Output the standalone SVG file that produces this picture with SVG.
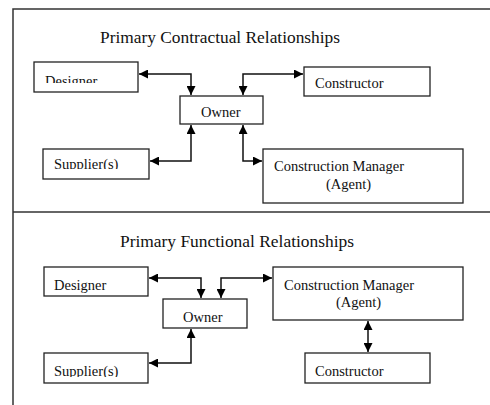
<svg xmlns="http://www.w3.org/2000/svg" width="490" height="405" viewBox="0 0 490 405">
  <style>
    .frame { fill: none; stroke: #333; stroke-width: 1.5; }
    .box { fill: #fff; stroke: #222; stroke-width: 1.3; }
    .label { font-family: "Liberation Serif", "Times New Roman", serif; font-size: 14.5px; fill: #111; }
    .title { font-family: "Liberation Serif", "Times New Roman", serif; font-size: 16px; fill: #111; }
    .link { fill: none; stroke: #111; stroke-width: 1.5; marker-start: url(#head); marker-end: url(#head); }
  </style>
  <defs>
    <marker id="head" viewBox="0 0 10 10" refX="10" refY="5" markerWidth="10" markerHeight="9" markerUnits="userSpaceOnUse" orient="auto-start-reverse">
      <path d="M0,0 L10,5 L0,10 z" fill="#000"/>
    </marker>
    <clipPath id="clipDesignerTop"><rect x="34" y="62" width="104" height="21"/></clipPath>
    <clipPath id="clipSupplierTop"><rect x="43" y="149" width="106" height="20"/></clipPath>
    <clipPath id="clipSupplierBottom"><rect x="44" y="353" width="104" height="24"/></clipPath>
  </defs>

  <!-- outer frame and section divider -->
  <path class="frame" d="M13,405 V9 H490"/>
  <path class="frame" d="M13,212 H490"/>

  <!-- section titles -->
  <text class="title" x="100" y="43" textLength="240" lengthAdjust="spacingAndGlyphs">Primary Contractual Relationships</text>
  <text class="title" x="120" y="247" textLength="234" lengthAdjust="spacingAndGlyphs">Primary Functional Relationships</text>

  <!-- contractual relationships -->
  <g id="c-designer">
    <rect class="box" x="34" y="62" width="104" height="30"/>
    <text class="label" x="45" y="86" clip-path="url(#clipDesignerTop)">Designer</text>
  </g>
  <g id="c-owner">
    <rect class="box" x="180" y="96" width="83" height="28"/>
    <text class="label" x="201" y="117">Owner</text>
  </g>
  <g id="c-constructor">
    <rect class="box" x="304" y="67" width="126" height="29"/>
    <text class="label" x="315" y="88">Constructor</text>
  </g>
  <g id="c-supplier">
    <rect class="box" x="43" y="149" width="106" height="30"/>
    <text class="label" x="54" y="169" clip-path="url(#clipSupplierTop)">Supplier(s)</text>
  </g>
  <g id="c-cm">
    <rect class="box" x="263" y="149" width="200" height="54"/>
    <text class="label" x="274" y="171">Construction Manager</text>
    <text class="label" x="326" y="189">(Agent)</text>
  </g>

  <!-- functional relationships -->
  <g id="f-designer">
    <rect class="box" x="44" y="267" width="104" height="29"/>
    <text class="label" x="54" y="290">Designer</text>
  </g>
  <g id="f-owner">
    <rect class="box" x="163" y="299" width="84" height="29"/>
    <text class="label" x="183" y="322">Owner</text>
  </g>
  <g id="f-cm">
    <rect class="box" x="273" y="267" width="190" height="53"/>
    <text class="label" x="284" y="290">Construction Manager</text>
    <text class="label" x="336" y="307">(Agent)</text>
  </g>
  <g id="f-supplier">
    <rect class="box" x="44" y="353" width="104" height="30"/>
    <text class="label" x="54" y="376" clip-path="url(#clipSupplierBottom)">Supplier(s)</text>
  </g>
  <g id="f-constructor">
    <rect class="box" x="305" y="353" width="125" height="30"/>
    <text class="label" x="315" y="376">Constructor</text>
  </g>

  <!-- connectors (two-way arrows) -->
  <g id="connectors">
    <path class="link" d="M139,74 H191 V95"/>
    <path class="link" d="M243,95 V74 H303"/>
    <path class="link" d="M150,161 H191 V125"/>
    <path class="link" d="M243,125 V161 H262"/>
    <path class="link" d="M149,278 H201 V298"/>
    <path class="link" d="M221,298 V278 H272"/>
    <path class="link" d="M149,363 H191 V329"/>
    <path class="link" d="M368,321 V352"/>
  </g>
</svg>
